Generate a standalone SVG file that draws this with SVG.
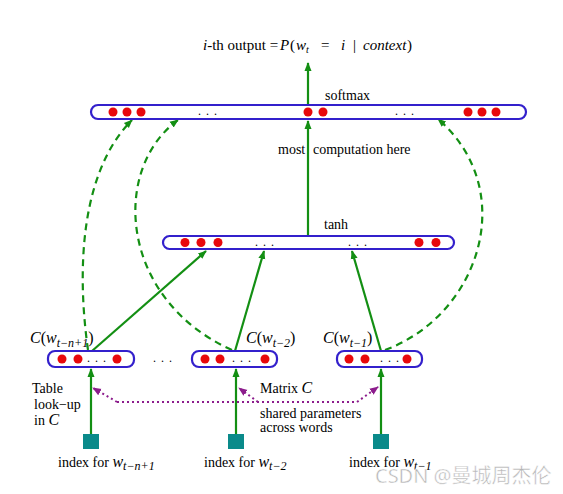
<svg xmlns="http://www.w3.org/2000/svg" width="563" height="494" viewBox="0 0 563 494">
<style>
text { font-family: "Liberation Serif", "Times New Roman", serif; fill: #000; }
.t14 { font-size: 14px; }
.t15 { font-size: 15px; }
.t16 { font-size: 16px; }
.it { font-style: italic; }
.sub { font-size: 10px; font-style: italic; }
.sub12 { font-size: 12px; font-style: italic; }
.bar { fill: #fff; stroke: #3320cc; stroke-width: 2.2; }
.dot { fill: #e8080c; }
.ell { font-size: 12px; letter-spacing: 1px; }
.solid { fill: none; stroke: #138f13; stroke-width: 2.2; }
.dash { fill: none; stroke: #138f13; stroke-width: 2.2; stroke-dasharray: 7 5; }
.dotted { fill: none; stroke: #8c1c8c; stroke-width: 2; stroke-dasharray: 2 3; }
.sq { fill: #0a8a8a; }
.wm { font-family: "Noto Sans", "Noto Sans CJK SC", sans-serif; font-size: 20px; fill: #b4b4b4; stroke: #fff; stroke-width: 0.5; }
</style>
<defs>
<marker id="ag" viewBox="0 0 10 10" refX="9" refY="5" markerWidth="4" markerHeight="4" orient="auto" markerUnits="strokeWidth">
<path d="M0,1 L10,5 L0,9 Z" fill="#138f13"/>
</marker>
<marker id="ap" viewBox="0 0 10 10" refX="9" refY="5" markerWidth="4.5" markerHeight="4.5" orient="auto" markerUnits="strokeWidth">
<path d="M0,1 L10,5 L0,9 Z" fill="#8c1c8c"/>
</marker>
</defs>

<rect width="563" height="494" fill="#fff"/>

<g id="connectors">
<line class="solid" x1="308" y1="105" x2="308" y2="63" marker-end="url(#ag)"/>
<line class="solid" x1="308" y1="236" x2="308" y2="121" marker-end="url(#ag)"/>
<line class="solid" x1="92" y1="351" x2="206" y2="251" marker-end="url(#ag)"/>
<line class="solid" x1="235" y1="351" x2="264" y2="251" marker-end="url(#ag)"/>
<line class="solid" x1="381" y1="351" x2="352" y2="251" marker-end="url(#ag)"/>
<line class="solid" x1="91" y1="434" x2="91" y2="369" marker-end="url(#ag)"/>
<line class="solid" x1="236" y1="434" x2="236" y2="369" marker-end="url(#ag)"/>
<line class="solid" x1="381" y1="434" x2="381" y2="369" marker-end="url(#ag)"/>
<path class="dash" d="M88,350 C76,265 82,170 132,120" marker-end="url(#ag)"/>
<path class="dash" d="M232,350 C120,300 110,170 178,120" marker-end="url(#ag)"/>
<path class="dash" d="M385,350 C480,315 520,190 438,119" marker-end="url(#ag)"/>
<path class="dotted" d="M117,402 L357,402"/>
<path class="dotted" d="M117,402 L93,388" marker-end="url(#ap)"/>
<path class="dotted" d="M258,402 L239,388" marker-end="url(#ap)"/>
<path class="dotted" d="M357,402 L378,387" marker-end="url(#ap)"/>
</g>

<g id="output-label">
<text class="t15" x="203" y="50"><tspan class="it">i</tspan>-th output =</text>
<text class="t15" y="50"><tspan class="it" x="280">P</tspan><tspan x="290">(</tspan><tspan class="it" x="296">w</tspan><tspan class="sub" x="306" dy="3">t</tspan><tspan x="321" dy="-3">=</tspan><tspan class="it" x="341">i</tspan><tspan x="353">|</tspan><tspan class="it" x="363">context</tspan><tspan x="407">)</tspan></text>
</g>

<g id="softmax">
<rect class="bar" x="91" y="105" width="435" height="14" rx="7"/>
<circle class="dot" cx="113" cy="112" r="4.5"/>
<circle class="dot" cx="127" cy="112" r="4.5"/>
<circle class="dot" cx="141" cy="112" r="4.5"/>
<text class="ell" x="208" y="115" text-anchor="middle">. . .</text>
<circle class="dot" cx="308" cy="112" r="4.5"/>
<circle class="dot" cx="323" cy="112" r="4.5"/>
<text class="ell" x="405" y="115" text-anchor="middle">. . .</text>
<circle class="dot" cx="468" cy="112" r="4.5"/>
<circle class="dot" cx="482" cy="112" r="4.5"/>
<circle class="dot" cx="496" cy="112" r="4.5"/>
<text class="t14" x="325" y="100">softmax</text>
</g>

<g id="computation-label">
<text class="t14" x="278" y="154">most</text>
<text class="t14" x="313" y="154">computation here</text>
</g>

<g id="tanh">
<rect class="bar" x="163" y="236" width="291" height="13" rx="6.5"/>
<circle class="dot" cx="185" cy="242.5" r="4.5"/>
<circle class="dot" cx="201" cy="242.5" r="4.5"/>
<circle class="dot" cx="218" cy="242.5" r="4.5"/>
<text class="ell" x="265" y="246" text-anchor="middle">. . .</text>
<text class="ell" x="358" y="246" text-anchor="middle">. . .</text>
<circle class="dot" cx="419" cy="242.5" r="4.5"/>
<circle class="dot" cx="436" cy="242.5" r="4.5"/>
<text class="t14" x="324" y="229">tanh</text>
</g>

<g id="emb1">
<rect class="bar" x="48" y="351" width="86" height="16" rx="7"/>
<circle class="dot" cx="62" cy="359" r="4.5"/>
<circle class="dot" cx="78" cy="359" r="4.5"/>
<text class="ell" x="97" y="362" text-anchor="middle">. . .</text>
<circle class="dot" cx="117" cy="359" r="4.5"/>
<text class="t16" x="30" y="343"><tspan class="it">C</tspan>(<tspan class="it">w</tspan><tspan class="sub12" dy="4">t−n+1</tspan><tspan dy="-4">)</tspan></text>
</g>

<g id="ellipsis-mid">
<text class="ell" x="163" y="362" text-anchor="middle">. . .</text>
</g>

<g id="emb2">
<rect class="bar" x="192" y="351" width="85" height="16" rx="7"/>
<circle class="dot" cx="205" cy="359" r="4.5"/>
<circle class="dot" cx="220" cy="359" r="4.5"/>
<text class="ell" x="242" y="362" text-anchor="middle">. . .</text>
<circle class="dot" cx="265" cy="359" r="4.5"/>
<text class="t16" x="246" y="343"><tspan class="it">C</tspan>(<tspan class="it">w</tspan><tspan class="sub12" dy="4">t−2</tspan><tspan dy="-4">)</tspan></text>
</g>

<g id="emb3">
<rect class="bar" x="337" y="351" width="85" height="16" rx="7"/>
<circle class="dot" cx="349" cy="359" r="4.5"/>
<circle class="dot" cx="365" cy="359" r="4.5"/>
<text class="ell" x="390" y="362" text-anchor="middle">. . .</text>
<circle class="dot" cx="407" cy="359" r="4.5"/>
<text class="t16" x="323" y="343"><tspan class="it">C</tspan>(<tspan class="it">w</tspan><tspan class="sub12" dy="4">t−1</tspan><tspan dy="-4">)</tspan></text>
</g>

<g id="idx1">
<rect class="sq" x="83" y="434" width="16" height="15"/>
<text class="t14" x="58" y="467">index for <tspan class="it" font-size="16">w</tspan><tspan class="sub12" dy="3">t−n+1</tspan></text>
</g>
<g id="idx2">
<rect class="sq" x="228" y="434" width="16" height="15"/>
<text class="t14" x="204" y="467">index for <tspan class="it" font-size="16">w</tspan><tspan class="sub12" dy="3">t−2</tspan></text>
</g>
<g id="idx3">
<rect class="sq" x="373" y="434" width="16" height="15"/>
<text class="t14" x="349" y="467">index for <tspan class="it" font-size="16">w</tspan><tspan class="sub12" dy="3">t−1</tspan></text>
</g>

<g id="lookup-label">
<text class="t14" x="32" y="393">Table</text>
<text class="t14" x="34" y="409">look−up</text>
<text class="t14" x="34" y="425">in <tspan class="it" font-size="16">C</tspan></text>
</g>

<g id="matrix-label">
<text class="t14" x="260" y="393">Matrix <tspan class="it" font-size="16">C</tspan></text>
<text class="t14" x="260" y="418">shared parameters</text>
<text class="t14" x="260" y="432">across words</text>
</g>

<text class="wm" x="375" y="483">CSDN @曼城周杰伦</text>
</svg>
